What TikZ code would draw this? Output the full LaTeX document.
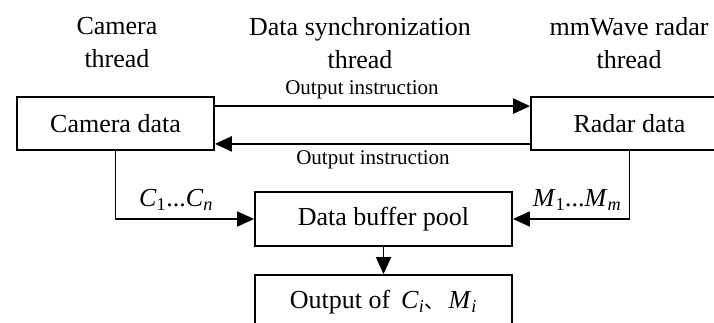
\documentclass[tikz,border=0pt]{standalone}
\usepackage{fontspec}
\setmainfont{Liberation Serif}
\newfontfamily\cjkfont{Noto Sans CJK SC}
\usetikzlibrary{arrows.meta,calc}
\newcommand{\vsub}[2]{\textit{#1}\textsubscript{#2}}
\begin{document}
\begin{tikzpicture}[x=1pt,y=-1pt,
  box/.style={draw,line width=1.8pt,inner sep=0pt,font=\fontsize{26}{30}\selectfont},
  head/.style={align=center,inner sep=0pt,font=\fontsize{26}{33}\selectfont},
  lbl/.style={inner sep=0pt,font=\fontsize{21}{24}\selectfont},
  mlbl/.style={inner sep=0pt,font=\fontsize{26}{30}\selectfont},
  conn/.style={line width=1.8pt,-{Triangle[length=17pt,width=15pt]}},
  thick conn/.style={line width=2.6pt,-{Triangle[length=17pt,width=15pt]}}]
\clip (0,0) rectangle (714,323);
\fill[white] (0,0) rectangle (714,323);
\node[head] (hcam) at (117,43) {Camera\\thread};
\node[head] (hsync) at (360,43) {Data synchronization\\thread};
\node[head] (hrad) at (629,43) {mmWave radar\\thread};
\node[box,minimum width=197pt,minimum height=53pt] (camera) at (115.5,123.5) {Camera data};
\node[box,minimum width=197pt,minimum height=53pt] (radar) at (629.5,123.5) {Radar data};
\node[box,minimum width=257pt,minimum height=54pt] (buffer) at (383.5,219) {Data buffer pool};
\node[box,minimum width=257pt,minimum height=54pt] (output) at (383.5,302) {Output of \,\vsub{C}{\textit{i}}\hbox{\cjkfont\fontsize{20}{24}\selectfont 、}\,\vsub{M}{\textit{i}}};
\coordinate (t1) at ($(camera.north east)+(0,10)$);
\coordinate (t2) at ($(radar.north west)+(0,10)$);
\coordinate (b1) at ($(radar.south west)+(0,-7)$);
\coordinate (b2) at ($(camera.south east)+(0,-7)$);
\draw[thick conn] (t1) -- (t2);
\draw[thick conn] (b1) -- (b2);
\node[lbl] (li1) at (362,90) {Output instruction};
\node[lbl] (li2) at (373,160) {Output instruction};
\draw[conn] (camera.south) |- (buffer.west);
\draw[conn] (radar.south) |- (buffer.east);
\draw[conn] (buffer.south) -- (output.north);
\node[mlbl] (lc) at (176,200) {\vsub{C}{1}...\vsub{C}{\textit{n}}};
\node[mlbl] (lm) at (577,200) {\vsub{M}{1}...\vsub{M}{\textit{m}}};
\end{tikzpicture}
\end{document}
